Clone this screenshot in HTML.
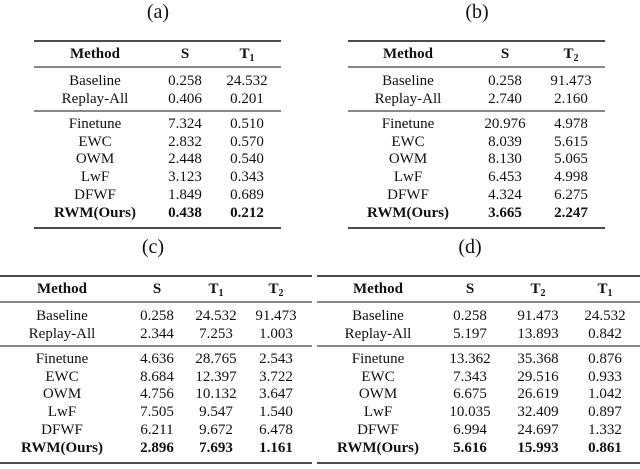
<!DOCTYPE html>
<html><head><meta charset="utf-8">
<style>
body{margin:0;background:#fff;width:640px;height:464px;overflow:hidden}
svg text{font-family:"Liberation Serif",serif;font-size:15px;fill:#111}
.b{font-weight:bold}
</style></head>
<body>
<svg id="s" width="640" height="464"></svg>
<script>
const methods=["Baseline","Replay-All","Finetune","EWC","OWM","LwF","DFWF","RWM(Ours)"];
const tA_S=["0.258","0.406","7.324","2.832","2.448","3.123","1.849","0.438"];
const tA_T1=["24.532","0.201","0.510","0.570","0.540","0.343","0.689","0.212"];
const tB_S=["0.258","2.740","20.976","8.039","8.130","6.453","4.324","3.665"];
const tB_T2=["91.473","2.160","4.978","5.615","5.065","4.998","6.275","2.247"];
const tC_S=["0.258","2.344","4.636","8.684","4.756","7.505","6.211","2.896"];
const tC_T1=["24.532","7.253","28.765","12.397","10.132","9.547","9.672","7.693"];
const tC_T2=["91.473","1.003","2.543","3.722","3.647","1.540","6.478","1.161"];
const tD_S=["0.258","5.197","13.362","7.343","6.675","10.035","6.994","5.616"];
const tD_T2=["91.473","13.893","35.368","29.516","26.619","32.409","24.697","15.993"];
const tD_T1=["24.532","0.842","0.876","0.933","1.042","0.897","1.332","0.861"];
const NS="http://www.w3.org/2000/svg";
const svg=document.getElementById('s');
function txt(x,y,t,cls,name){const e=document.createElementNS(NS,'text');e.setAttribute('x',x);e.setAttribute('y',y);e.setAttribute('text-anchor','middle');if(cls)e.setAttribute('class',cls);


e.innerHTML=t;svg.appendChild(e);return e;}
function line(x1,x2,y,w,name){const e=document.createElementNS(NS,'line');e.setAttribute('x1',x1);e.setAttribute('x2',x2);e.setAttribute('y1',y);e.setAttribute('y2',y);e.setAttribute('stroke','#111');e.setAttribute('stroke-width',w);


svg.appendChild(e);}
function sub(n){return 'T<tspan font-size="10" dy="3">'+n+'</tspan>';}
function table(id,oy,x1,x2,titleX,cols){
  txt(titleX,oy+18,'('+id+')','',  'table-title-'+id).setAttribute('style','font-size:20px');
  line(x1,x2,oy+41,1.6,'top-rule-'+id);
  line(x1,x2,oy+67,0.9,'header-rule-'+id);
  line(x1,x2,oy+111,0.9,'mid-rule-'+id);
  line(x1,x2,oy+228,1.6,'bottom-rule-'+id);
  cols.forEach((c,ci)=>{
    txt(c.x,oy+58,c.h,'b','header-'+id+'-'+ci);
    const rows=[oy+85,oy+103,oy+128,oy+146,oy+163,oy+181,oy+199,oy+217];
    c.v.forEach((v,ri)=>{txt(c.x,rows[ri],v,ri==7?'b':'','cell-'+id+'-'+ri+'-'+ci);});
  });
}
table('a',0,34,281,158,[{x:95,h:'Method',v:methods},{x:185,h:'S',v:tA_S},{x:247,h:sub(1),v:tA_T1}]);
table('b',0,348,605,477,[{x:408,h:'Method',v:methods},{x:505,h:'S',v:tB_S},{x:571,h:sub(2),v:tB_T2}]);
table('c',235,0,312,153,[{x:62,h:'Method',v:methods},{x:157,h:'S',v:tC_S},{x:216,h:sub(1),v:tC_T1},{x:276,h:sub(2),v:tC_T2}]);
table('d',235,317,640,470,[{x:378,h:'Method',v:methods},{x:470,h:'S',v:tD_S},{x:538,h:sub(2),v:tD_T2},{x:605,h:sub(1),v:tD_T1}]);
</script>
</body></html>
